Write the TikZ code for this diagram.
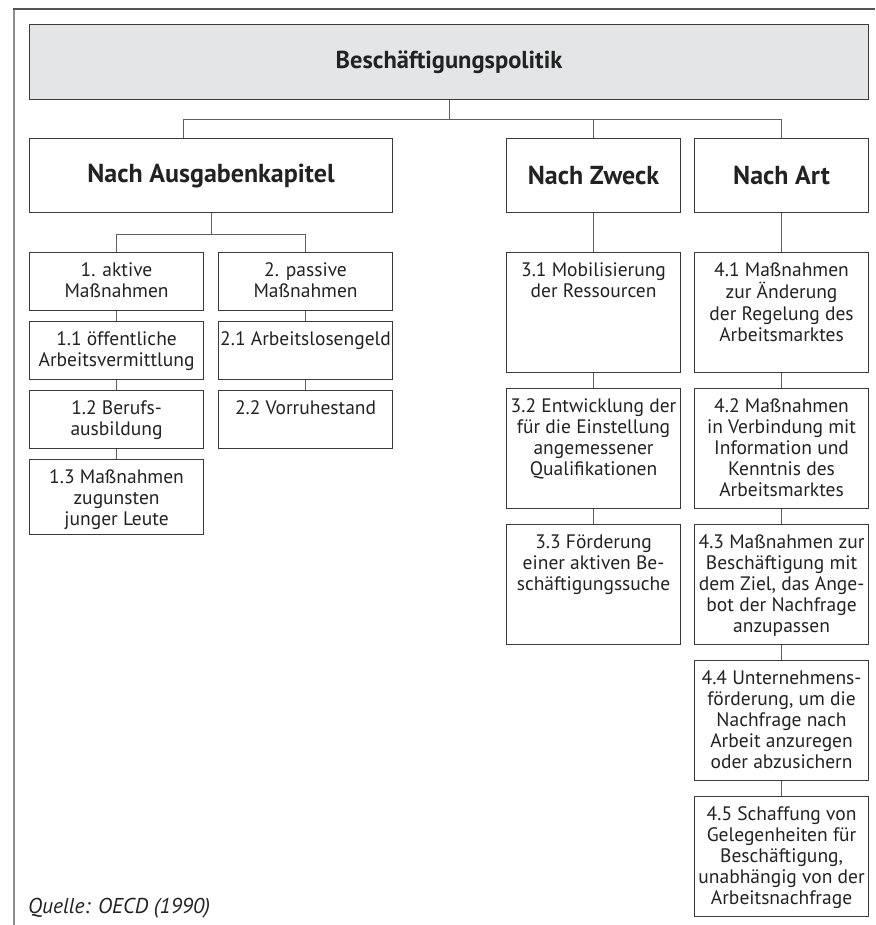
\documentclass[tikz,border=0pt]{standalone}
\usepackage{fontspec}
\setmainfont{PT Sans}
\usepackage{tikz}

\definecolor{kasten}{HTML}{3A3A3A}
\definecolor{linie}{HTML}{5F5F5F}
\definecolor{rahmen}{HTML}{8C8C8C}
\definecolor{rahmenoben}{HTML}{555555}
\definecolor{titelgrau}{HTML}{E4E5E7}
\definecolor{schrift}{HTML}{222222}

\newcommand{\zelle}[2]{\parbox[c][#1][t]{174pt}{\centering\rule{0pt}{23.5pt}\begin{tabular}[t]{@{}c@{}}#2\end{tabular}}}

\begin{document}
\begin{tikzpicture}[x=1pt,y=-1pt,text=schrift,
  cell/.style={draw=kasten,line width=1.1pt,inner sep=0pt,anchor=north west,font=\fontsize{19.5}{21.2}\selectfont},
  head/.style={draw=kasten,line width=1.1pt,inner sep=0pt,anchor=north west,minimum width=174pt,minimum height=74pt,font=\fontsize{26}{30}\selectfont\bfseries},
  wire/.style={draw=linie,line width=0.9pt}]
\useasboundingbox (0,0) rectangle (875,925);
 \draw[rahmen,line width=2pt] (14,925) -- (14,9);
 \draw[rahmenoben,line width=1.5pt] (13,9) -- (875,9);

 \draw (29,24) node[head,fill=titelgrau,minimum width=839pt,minimum height=75pt,font=\fontsize{24.5}{28}\selectfont\bfseries] (politik) {Beschäftigungspolitik};

  \draw (29,138) node[head,minimum width=363pt] (ausgaben) {Nach Ausgabenkapitel};
  \draw (506,138) node[head] (zweck) {Nach Zweck};
  \draw (694,138) node[head] (art) {Nach Art};

    \draw (29,252) node[cell] (aktiv) {\zelle{58pt}{1. aktive\\Maßnahmen}};
    \draw (29,321) node[cell] (a1) {\zelle{58pt}{1.1 öffentliche\\Arbeitsvermittlung}};
    \draw (29,390) node[cell] (a2) {\zelle{58pt}{1.2 Berufs-\\ausbildung}};
    \draw (29,459) node[cell] (a3) {\zelle{75pt}{1.3 Maßnahmen\\zugunsten\\junger Leute}};

    \draw (218,252) node[cell] (passiv) {\zelle{58pt}{2. passive\\Maßnahmen}};
    \draw (218,321) node[cell] (p1) {\zelle{58pt}{2.1 Arbeitslosengeld}};
    \draw (218,390) node[cell] (p2) {\zelle{58pt}{2.2 Vorruhestand}};

    \draw (506,252) node[cell] (z1) {\zelle{120pt}{3.1 Mobilisierung\\der Ressourcen}};
    \draw (506,388) node[cell] (z2) {\zelle{120pt}{3.2 Entwicklung der\\für die Einstellung\\angemessener\\Qualifikationen}};
    \draw (506,524) node[cell] (z3) {\zelle{120pt}{3.3 Förderung\\einer aktiven Be-\\schäftigungssuche}};

    \draw (694,252) node[cell] (r1) {\zelle{120pt}{4.1 Maßnahmen\\zur Änderung\\der Regelung des\\Arbeitsmarktes}};
    \draw (694,388) node[cell] (r2) {\zelle{120pt}{4.2 Maßnahmen\\in Verbindung mit\\Information und\\Kenntnis des\\Arbeitsmarktes}};
    \draw (694,524) node[cell] (r3) {\zelle{120pt}{4.3 Maßnahmen zur\\Beschäftigung mit\\dem Ziel, das Ange-\\bot der Nachfrage\\anzupassen}};
    \draw (694,660) node[cell] (r4) {\zelle{120pt}{4.4 Unternehmens-\\förderung, um die\\Nachfrage nach\\Arbeit anzuregen\\oder abzusichern}};
    \draw (694,796) node[cell] (r5) {\zelle{120pt}{4.5 Schaffung von\\Gelegenheiten für\\Beschäftigung,\\unabhängig von der\\Arbeitsnachfrage}};

 \draw (28,908) node[anchor=west,inner sep=0pt,font=\fontsize{21.5}{24}\selectfont\itshape] (quelle) {Quelle: OECD (1990)};

 \coordinate (busl) at (183,119);
 \draw[wire] (politik.south) -- (politik.south |- busl);
 \draw[wire] (ausgaben.north -| busl) -- (busl) -| (art.north);
 \draw[wire] (zweck.north) -- (zweck.north |- busl);
 \draw[wire] (ausgaben.south) -- ++(0,21) coordinate (busa);
 \draw[wire] (aktiv.north) |- (busa) -| (passiv.north);

 \foreach \a/\b in {aktiv/a1,a1/a2,a2/a3,passiv/p1,p1/p2,zweck/z1,z1/z2,z2/z3,art/r1,r1/r2,r2/r3,r3/r4,r4/r5}
   \path[wire] (\a.south) edge (\b.north);
\end{tikzpicture}
\end{document}
